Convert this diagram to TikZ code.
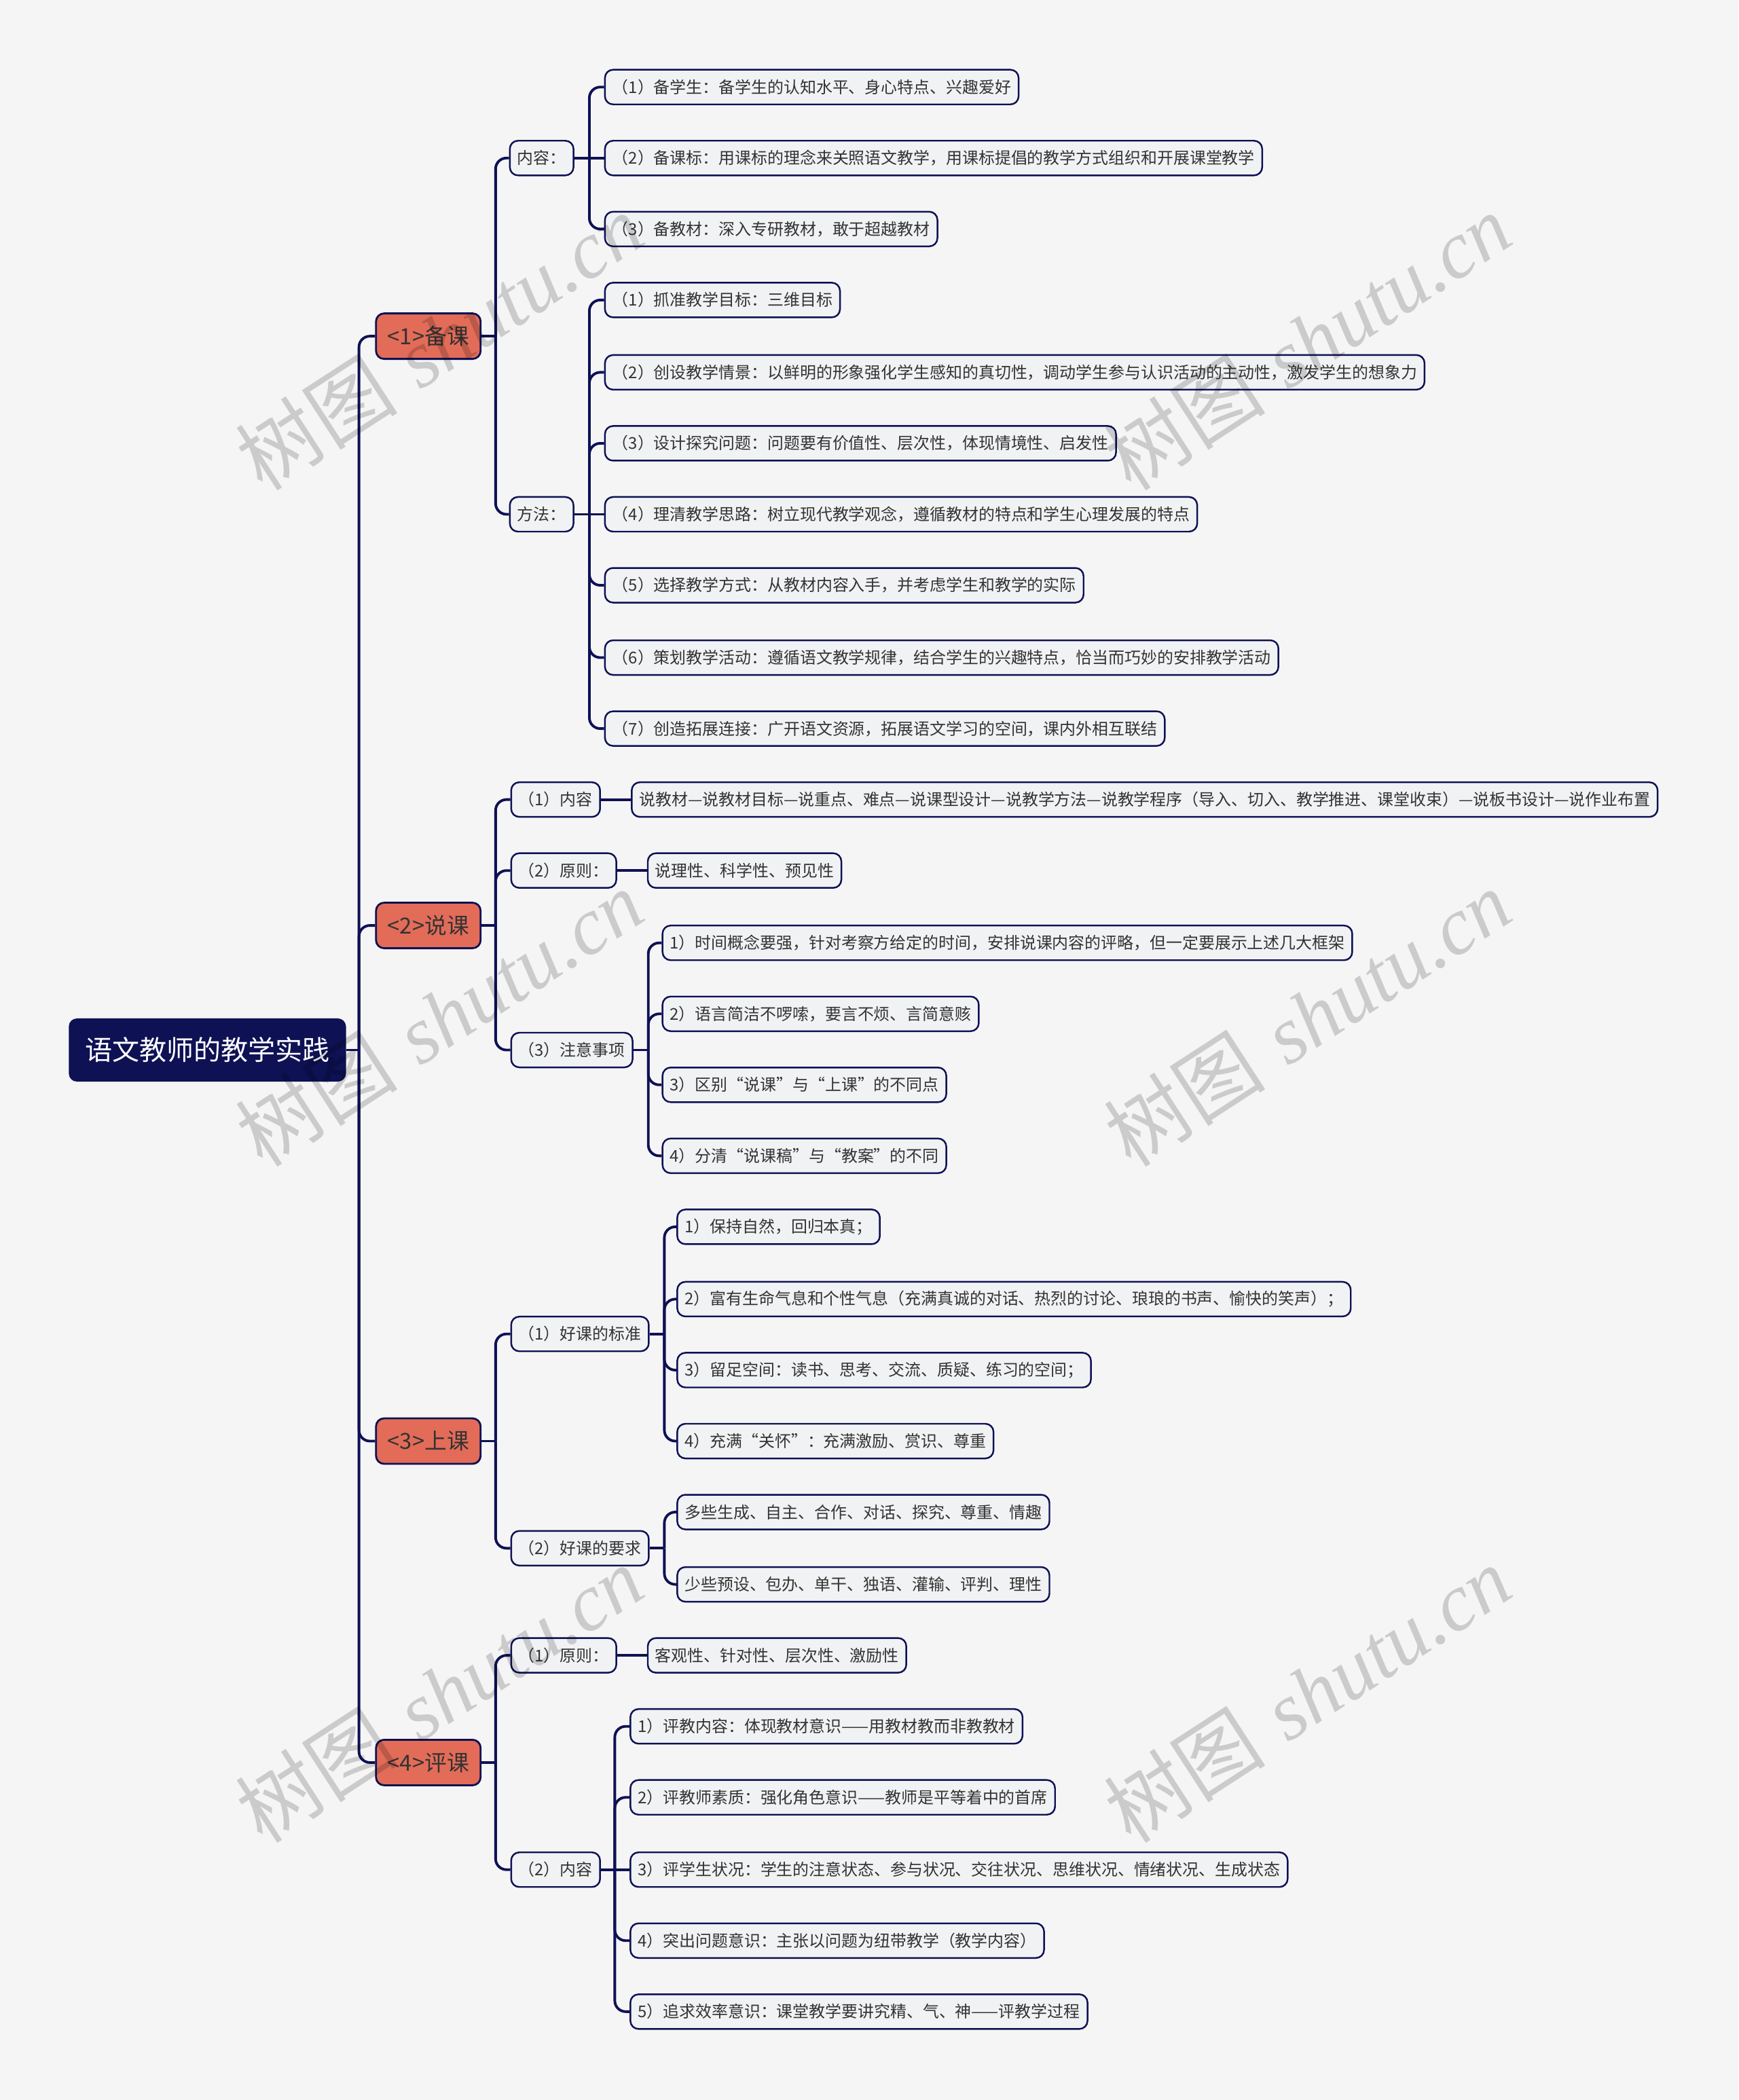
\documentclass[tikz,border=0pt]{standalone}
\usepackage{fontspec}
\newfontfamily\cjk{Noto Sans CJK SC}
\newfontfamily\wmlatin{Liberation Serif}
\usetikzlibrary{positioning}

\definecolor{navy}{RGB}{14,17,84}
\definecolor{salmon}{RGB}{226,108,88}
\definecolor{boxgray}{RGB}{241,242,244}
\definecolor{bgc}{RGB}{245,245,245}
\definecolor{textgray}{RGB}{51,51,51}

\tikzset{
  branch/.style={draw=navy, line width=1.1pt, rounded corners=0.16cm},
  rootbox/.style={fill=navy, text=white, rounded corners=0.12cm, anchor=west,
    minimum width=4.08cm, minimum height=0.93cm, inner sep=0pt,
    font=\cjk\fontsize{11.4}{13}\selectfont},
  mainbox/.style={fill=salmon, draw=navy, line width=0.8pt, rounded corners=0.12cm,
    anchor=west, minimum width=1.54cm, minimum height=0.67cm, inner sep=0pt,
    text=textgray, font=\cjk\fontsize{9.3}{11}\selectfont},
  subbox/.style={fill=boxgray, draw=navy, line width=0.7pt, rounded corners=0.12cm,
    anchor=west, minimum height=0.51cm, inner xsep=0.11cm, inner ysep=0pt,
    text=textgray, font=\cjk\fontsize{6.8}{8}\selectfont},
  wmark/.style={text=black, text opacity=0.17, rotate=33,
    font=\fontsize{34}{36}\selectfont},
}

\begin{document}
\begin{tikzpicture}[x=0.01972cm, y=-0.01972cm]
        \path[use as bounding box, fill=bgc] (0,0) rectangle (1298,1568);

        % root and main branches
        \node [rootbox] at (51, 784) (root) {语文教师的教学实践};
        \node [mainbox] at (280, 251) (n1) {<1>备课};
        \node [mainbox] at (280, 691) (n2) {<2>说课};
        \node [mainbox] at (280, 1076) (n3) {<3>上课};
        \node [mainbox] at (280, 1316) (n4) {<4>评课};

        % <1> 备课
        \node [subbox] at (380, 118) (n1a) {内容：};
        \node [subbox] at (380, 384) (n1b) {方法：};
        \node [subbox] at (451, 65) (n1a1) {（1）备学生：备学生的认知水平、身心特点、兴趣爱好};
        \node [subbox] at (451, 118) (n1a2) {（2）备课标：用课标的理念来关照语文教学，用课标提倡的教学方式组织和开展课堂教学};
        \node [subbox] at (451, 171) (n1a3) {（3）备教材：深入专研教材，敢于超越教材};
        \node [subbox] at (451, 224) (n1b1) {（1）抓准教学目标：三维目标};
        \node [subbox] at (451, 278) (n1b2) {（2）创设教学情景：以鲜明的形象强化学生感知的真切性，调动学生参与认识活动的主动性，激发学生的想象力};
        \node [subbox] at (451, 331) (n1b3) {（3）设计探究问题：问题要有价值性、层次性，体现情境性、启发性};
        \node [subbox] at (451, 384) (n1b4) {（4）理清教学思路：树立现代教学观念，遵循教材的特点和学生心理发展的特点};
        \node [subbox] at (451, 437) (n1b5) {（5）选择教学方式：从教材内容入手，并考虑学生和教学的实际};
        \node [subbox] at (451, 491) (n1b6) {（6）策划教学活动：遵循语文教学规律，结合学生的兴趣特点，恰当而巧妙的安排教学活动};
        \node [subbox] at (451, 544) (n1b7) {（7）创造拓展连接：广开语文资源，拓展语文学习的空间，课内外相互联结};

        % <2> 说课
        \node [subbox] at (381, 597) (n2a) {（1）内容};
        \node [subbox] at (381, 650) (n2b) {（2）原则：};
        \node [subbox] at (381, 784) (n2c) {（3）注意事项};
        \node [subbox] at (471, 597) (n2a1) {说教材—说教材目标—说重点、难点—说课型设计—说教学方法—说教学程序（导入、切入、教学推进、课堂收束）—说板书设计—说作业布置};
        \node [subbox] at (483, 650) (n2b1) {说理性、科学性、预见性};
        \node [subbox] at (494, 704) (n2c1) {1）时间概念要强，针对考察方给定的时间，安排说课内容的评略，但一定要展示上述几大框架};
        \node [subbox] at (494, 757) (n2c2) {2）语言简洁不啰嗦，要言不烦、言简意赅};
        \node [subbox] at (494, 810) (n2c3) {3）区别“说课”与“上课”的不同点};
        \node [subbox] at (494, 863) (n2c4) {4）分清“说课稿”与“教案”的不同};

        % <3> 上课
        \node [subbox] at (381, 996) (n3a) {（1）好课的标准};
        \node [subbox] at (381, 1156) (n3b) {（2）好课的要求};
        \node [subbox] at (505, 916) (n3a1) {1）保持自然，回归本真；};
        \node [subbox] at (505, 970) (n3a2) {2）富有生命气息和个性气息（充满真诚的对话、热烈的讨论、琅琅的书声、愉快的笑声）；};
        \node [subbox] at (505, 1023) (n3a3) {3）留足空间：读书、思考、交流、质疑、练习的空间；};
        \node [subbox] at (505, 1076) (n3a4) {4）充满“关怀”：充满激励、赏识、尊重};
        \node [subbox] at (505, 1129) (n3b1) {多些生成、自主、合作、对话、探究、尊重、情趣};
        \node [subbox] at (505, 1183) (n3b2) {少些预设、包办、单干、独语、灌输、评判、理性};

        % <4> 评课
        \node [subbox] at (381, 1236) (n4a) {（1）原则：};
        \node [subbox] at (381, 1396) (n4b) {（2）内容};
        \node [subbox] at (483, 1236) (n4a1) {客观性、针对性、层次性、激励性};
        \node [subbox] at (470, 1289) (n4b1) {1）评教内容：体现教材意识——用教材教而非教教材};
        \node [subbox] at (470, 1342) (n4b2) {2）评教师素质：强化角色意识——教师是平等着中的首席};
        \node [subbox] at (470, 1396) (n4b3) {3）评学生状况：学生的注意状态、参与状况、交往状况、思维状况、情绪状况、生成状态};
        \node [subbox] at (470, 1449) (n4b4) {4）突出问题意识：主张以问题为纽带教学（教学内容）};
        \node [subbox] at (470, 1502) (n4b5) {5）追求效率意识：课堂教学要讲究精、气、神——评教学过程};

        % spine points
        \coordinate (root-s) at (268, 784);
        \coordinate (n1-s) at (370, 251);
        \coordinate (n2-s) at (370, 691);
        \coordinate (n3-s) at (370, 1076);
        \coordinate (n4-s) at (370, 1316);
        \coordinate (n1a-s) at (440, 118);
        \coordinate (n1b-s) at (440, 384);
        \coordinate (n2c-s) at (484, 784);
        \coordinate (n3a-s) at (496, 996);
        \coordinate (n3b-s) at (496, 1156);
        \coordinate (n4b-s) at (459, 1396);

        % connectors
        \draw [branch] (root.east) -- (root-s);
        \foreach \c in {n1, n2, n3, n4}
          \draw [branch] (root-s) |- (\c.west);
        \draw [branch] (n1.east) -- (n1-s);
        \foreach \c in {n1a, n1b}
          \draw [branch] (n1-s) |- (\c.west);
        \draw [branch] (n1a.east) -- (n1a2.west);
        \foreach \c in {n1a1, n1a3}
          \draw [branch] (n1a-s) |- (\c.west);
        \draw [branch] (n1b.east) -- (n1b4.west);
        \foreach \c in {n1b1, n1b2, n1b3, n1b5, n1b6, n1b7}
          \draw [branch] (n1b-s) |- (\c.west);

        \draw [branch] (n2.east) -- (n2-s);
        \foreach \c in {n2a, n2b, n2c}
          \draw [branch] (n2-s) |- (\c.west);
        \draw [branch] (n2a.east) -- (n2a1.west);
        \draw [branch] (n2b.east) -- (n2b1.west);
        \draw [branch] (n2c.east) -- (n2c-s);
        \foreach \c in {n2c1, n2c2, n2c3, n2c4}
          \draw [branch] (n2c-s) |- (\c.west);

        \draw [branch] (n3.east) -- (n3-s);
        \foreach \c in {n3a, n3b}
          \draw [branch] (n3-s) |- (\c.west);
        \draw [branch] (n3a.east) -- (n3a-s);
        \foreach \c in {n3a1, n3a2, n3a3, n3a4}
          \draw [branch] (n3a-s) |- (\c.west);
        \draw [branch] (n3b.east) -- (n3b-s);
        \foreach \c in {n3b1, n3b2}
          \draw [branch] (n3b-s) |- (\c.west);

        \draw [branch] (n4.east) -- (n4-s);
        \foreach \c in {n4a, n4b}
          \draw [branch] (n4-s) |- (\c.west);
        \draw [branch] (n4a.east) -- (n4a1.west);
        \draw [branch] (n4b.east) -- (n4b3.west);
        \foreach \c in {n4b1, n4b2, n4b4, n4b5}
          \draw [branch] (n4b-s) |- (\c.west);

        % watermarks
        \foreach \x/\y [count=\i] in {328/255, 976/255, 328/760, 976/760, 328/1265, 976/1265}
          \node [wmark] at (\x, \y) (wm\i) {{\cjk 树图} {\wmlatin\itshape shutu.cn}};
\end{tikzpicture}
\end{document}
